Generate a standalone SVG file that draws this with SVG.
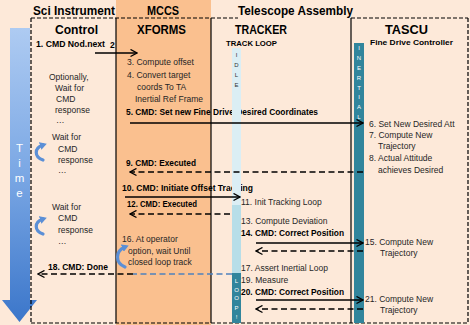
<svg xmlns="http://www.w3.org/2000/svg" width="470" height="325" viewBox="0 0 470 325">
<defs>
<linearGradient id="timeGrad" x1="0" y1="0" x2="0" y2="1">
<stop offset="0" stop-color="#aecbf2"/>
<stop offset="0.5" stop-color="#7aa7e4"/>
<stop offset="1" stop-color="#3b76ca"/>
</linearGradient>
<marker id="arr" markerUnits="userSpaceOnUse" markerWidth="9" markerHeight="9" viewBox="0 0 9 9" refX="8" refY="4.5" orient="auto">
<path d="M1.5,1 L8,4.5 L1.5,8" fill="none" stroke="#000" stroke-width="1.4"/>
</marker>
<marker id="curl" markerUnits="userSpaceOnUse" markerWidth="8" markerHeight="8" viewBox="0 0 8 8" refX="3" refY="4" orient="auto">
<path d="M0,0 L7,4 L0,8 Z" fill="#5b8fd6"/>
</marker>
<style>
.t{font-family:"Liberation Sans",Arial,sans-serif;font-size:8.5px;fill:#262626}
.b{font-weight:bold;fill:#000}
.h{font-family:"Liberation Sans",Arial,sans-serif;font-weight:bold;font-size:13px;fill:#000}
.sub{font-family:"Liberation Sans",Arial,sans-serif;font-weight:bold;font-size:7.5px;fill:#000}
.v{font-family:"Liberation Sans",Arial,sans-serif;font-size:6px;text-anchor:middle}
.tm{font-family:"Liberation Sans",Arial,sans-serif;font-size:11.5px;text-anchor:middle;fill:#fff}
.solid{stroke:#000;stroke-width:1.3;fill:none}
.dash{stroke:#000;stroke-width:1.3;stroke-dasharray:6 3.5;fill:none}
.bdash{stroke:#4f81bd;stroke-width:1.3;stroke-dasharray:6 3.5;fill:none}
.border{stroke:#000;stroke-width:1.2;stroke-dasharray:4 2;fill:none}
.lane{stroke:#000;stroke-width:1.2}
.cur{stroke:#5b8fd6;stroke-width:3.2;fill:none;stroke-linecap:round}
</style>
</defs>

<rect x="0" y="0" width="470" height="325" fill="#fde9d9"/>
<rect x="116" y="0" width="95" height="325" fill="#fac08f"/>

<g id="time-arrow">
<path d="M10,28 L30,28 L30,300 L37,300 L19.5,322 L2,300 L10,300 Z" fill="url(#timeGrad)"/>
<text class="tm" x="19.5" y="152">T</text>
<text class="tm" x="19.5" y="167">i</text>
<text class="tm" x="19.5" y="182">m</text>
<text class="tm" x="19.5" y="197">e</text>
</g>

<g id="frames">
<line class="border" x1="31" y1="18" x2="238" y2="18"/>
<line class="border" x1="351" y1="18" x2="468" y2="18"/>
<line class="border" x1="31" y1="18" x2="31" y2="323"/>
<line class="border" x1="468" y1="18" x2="468" y2="323"/>
<line class="border" x1="31" y1="323" x2="468" y2="323"/>
<line class="lane" x1="116" y1="18" x2="116" y2="323"/>
<line class="lane" x1="211" y1="18" x2="211" y2="323"/>
<line class="lane" x1="351" y1="18" x2="351" y2="323"/>
<text class="h" x="33" y="15" textLength="82" lengthAdjust="spacingAndGlyphs">Sci Instrument</text>
<text class="h" x="147" y="15" textLength="32" lengthAdjust="spacingAndGlyphs">MCCS</text>
<text class="h" x="238" y="15" textLength="115" lengthAdjust="spacingAndGlyphs">Telescope Assembly</text>
</g>

<g id="control">
<text class="h" x="55" y="34" textLength="43" lengthAdjust="spacingAndGlyphs">Control</text>
<text class="t b" x="36" y="47" textLength="69" lengthAdjust="spacingAndGlyphs">1. CMD Nod.next</text>
<text class="t b" x="110" y="48">2</text>
<text class="t" x="49" y="80">Optionally,</text>
<text class="t" x="55" y="91">Wait for</text>
<text class="t" x="56" y="102">CMD</text>
<text class="t" x="55" y="113">response</text>
<text class="t" x="56" y="123">…</text>
<text class="t" x="52" y="140">Wait for</text>
<text class="t" x="58" y="152">CMD</text>
<text class="t" x="58" y="163">response</text>
<text class="t" x="58" y="173">…</text>
<path class="cur" d="M43,160 C34,157 34,148 43,145" marker-end="url(#curl)"/>
<text class="t" x="52" y="210">Wait for</text>
<text class="t" x="58" y="221">CMD</text>
<text class="t" x="58" y="233">response</text>
<text class="t" x="58" y="244">…</text>
<path class="cur" d="M43,234 C34,231 34,222 43,219" marker-end="url(#curl)"/>
<text class="t b" x="48" y="270" textLength="60" lengthAdjust="spacingAndGlyphs">18. CMD: Done</text>
</g>

<g id="xforms">
<text class="h" x="137" y="34" textLength="49" lengthAdjust="spacingAndGlyphs">XFORMS</text>
<text class="t" x="127" y="65">3. Compute offset</text>
<text class="t" x="127" y="78">4. Convert target</text>
<text class="t" x="137" y="90">coords To TA</text>
<text class="t" x="135" y="102">Inertial Ref Frame</text>
<text class="t b" x="126" y="115" textLength="192" lengthAdjust="spacingAndGlyphs">5. CMD: Set new Fine Drive Desired Coordinates</text>
<text class="t b" x="126" y="166" textLength="70" lengthAdjust="spacingAndGlyphs">9. CMD: Executed</text>
<text class="t b" x="122" y="191" textLength="131" lengthAdjust="spacingAndGlyphs">10. CMD: Initiate Offset Tracking</text>
<text class="t b" x="127" y="207" textLength="70" lengthAdjust="spacingAndGlyphs">12. CMD: Executed</text>
<text class="t" x="122" y="242">16. At operator</text>
<text class="t" x="128" y="254">option, wait Until</text>
<text class="t" x="128" y="265">closed loop track</text>
<path class="cur" d="M125,267 C115,263 115,251 125,247" marker-end="url(#curl)"/>
</g>

<g id="tracker">
<text class="h" x="235" y="34" textLength="52" lengthAdjust="spacingAndGlyphs">TRACKER</text>
<text class="sub" x="226" y="46" textLength="51" lengthAdjust="spacingAndGlyphs">TRACK LOOP</text>
<rect x="232" y="48" width="9" height="157" fill="#dbeef4"/>
<rect x="232" y="205" width="9" height="68" fill="#b7dee8"/>
<rect x="232" y="273" width="9" height="50" fill="#31859c"/>
<text class="v" x="236.5" y="57" fill="#333">I</text>
<text class="v" x="236.5" y="67" fill="#333">D</text>
<text class="v" x="236.5" y="77" fill="#333">L</text>
<text class="v" x="236.5" y="87" fill="#333">E</text>
<text class="v" x="236.5" y="283" fill="#fff">L</text>
<text class="v" x="236.5" y="291.5" fill="#fff">O</text>
<text class="v" x="236.5" y="300" fill="#fff">O</text>
<text class="v" x="236.5" y="310" fill="#fff">P</text>
<text class="v" x="236.5" y="319" fill="#fff">!</text>
<text class="t" x="241" y="205">11. Init Tracking  Loop</text>
<text class="t" x="241" y="224">13. Compute Deviation</text>
<text class="t b" x="241" y="236" textLength="103" lengthAdjust="spacingAndGlyphs">14. CMD: Correct Position</text>
<text class="t" x="241" y="271">17. Assert Inertial Loop</text>
<text class="t" x="241" y="283">19. Measure</text>
<text class="t b" x="241" y="295" textLength="103" lengthAdjust="spacingAndGlyphs">20. CMD: Correct Position</text>
</g>

<g id="tascu">
<text class="h" x="385" y="34" textLength="43" lengthAdjust="spacingAndGlyphs">TASCU</text>
<text class="sub" x="370" y="45" textLength="83" lengthAdjust="spacingAndGlyphs">Fine Drive Controller</text>
<rect x="354" y="43" width="10" height="280" fill="#31859c"/>
<text class="v" x="359" y="50" fill="#fff">I</text>
<text class="v" x="359" y="60" fill="#fff">N</text>
<text class="v" x="359" y="70" fill="#fff">E</text>
<text class="v" x="359" y="79.5" fill="#fff">R</text>
<text class="v" x="359" y="89.5" fill="#fff">T</text>
<text class="v" x="359" y="99" fill="#fff">I</text>
<text class="v" x="359" y="109" fill="#fff">A</text>
<text class="v" x="359" y="119" fill="#fff">L</text>
<text class="t" x="369" y="127">6. Set New Desired Att</text>
<text class="t" x="369" y="138">7. Compute New</text>
<text class="t" x="378" y="149">Trajectory</text>
<text class="t" x="369" y="161">8. Actual Attitude</text>
<text class="t" x="378" y="173">achieves Desired</text>
<text class="t" x="365" y="245">15. Compute New</text>
<text class="t" x="380" y="256">Trajectory</text>
<text class="t" x="365" y="302">21. Compute New</text>
<text class="t" x="380" y="313">Trajectory</text>
</g>

<g id="connectors">
<line class="solid" x1="95" y1="53" x2="137" y2="53" marker-end="url(#arr)"/>
<line class="solid" x1="130" y1="123" x2="363" y2="123" marker-end="url(#arr)"/>
<line class="dash" x1="363" y1="172" x2="130" y2="172" marker-end="url(#arr)"/>
<line class="solid" x1="125" y1="197" x2="240" y2="197" marker-end="url(#arr)"/>
<line class="dash" x1="230" y1="214" x2="130" y2="214" marker-end="url(#arr)"/>
<line class="solid" x1="256" y1="243" x2="363" y2="243" marker-end="url(#arr)"/>
<line class="dash" x1="363" y1="251" x2="256" y2="251" marker-end="url(#arr)"/>
<line class="bdash" x1="232" y1="274" x2="133" y2="274"/>
<line class="dash" x1="133" y1="274" x2="38" y2="274" marker-end="url(#arr)"/>
<line class="solid" x1="256" y1="300" x2="363" y2="300" marker-end="url(#arr)"/>
<line class="dash" x1="363" y1="309" x2="256" y2="309" marker-end="url(#arr)"/>
</g>
</svg>
